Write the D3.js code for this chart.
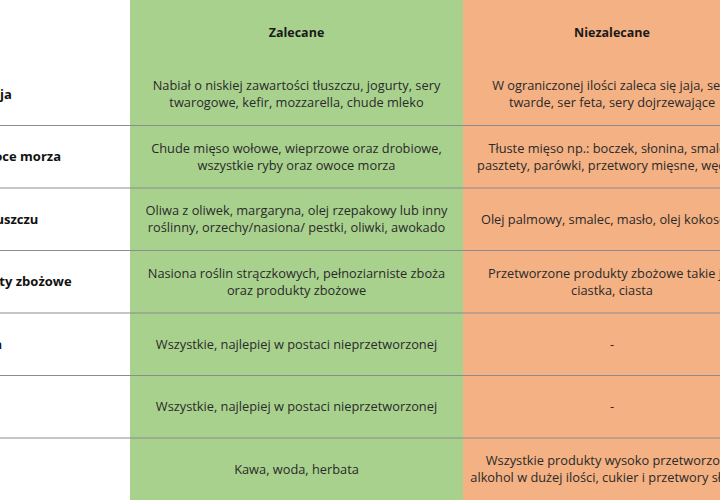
<!DOCTYPE html>
<html><head><meta charset="utf-8">
<script src="https://cdn.jsdelivr.net/npm/d3@7"></script>
<style>body{margin:0;background:#fff;overflow:hidden}</style>
</head><body>
<div id="chart"></div>
<script>
var headers = ['', 'Zalecane', 'Niezalecane'];
var groups = ['Mleko, nabiał i jaja', 'Mięso, ryby i owoce morza', 'Główne źródła tłuszczu',
  'Strączki i produkty zbożowe', 'Owoce i warzywa', 'Zioła', 'Napoje'];
var recommended = [
  ['Nabiał o niskiej zawartości tłuszczu, jogurty, sery', 'twarogowe, kefir, mozzarella, chude mleko'],
  ['Chude mięso wołowe, wieprzowe oraz drobiowe,', 'wszystkie ryby oraz owoce morza'],
  ['Oliwa z oliwek, margaryna, olej rzepakowy lub inny', 'roślinny, orzechy/nasiona/ pestki, oliwki, awokado'],
  ['Nasiona roślin strączkowych, pełnoziarniste zboża', 'oraz produkty zbożowe'],
  ['Wszystkie, najlepiej w postaci nieprzetworzonej'],
  ['Wszystkie, najlepiej w postaci nieprzetworzonej'],
  ['Kawa, woda, herbata']
];
var notRecommended = [
  ['W ograniczonej ilości zaleca się jaja, sery', 'twarde, ser feta, sery dojrzewające'],
  ['Tłuste mięso np.: boczek, słonina, smalec,', 'pasztety, parówki, przetwory mięsne, wędliny'],
  ['Olej palmowy, smalec, masło, olej kokosowy'],
  ['Przetworzone produkty zbożowe takie jak', 'ciastka, ciasta'],
  ['-'],
  ['-'],
  ['Wszystkie produkty wysoko przetworzone,', 'alkohol w dużej ilości, cukier i przetwory słodkie']
];

var width = 720, height = 500;
var svg = d3.select('#chart').append('svg').attr('width', width).attr('height', height);

// columns: label (partly off screen), green, orange
var x = d3.scaleOrdinal().domain([0, 1, 2]).range([-110, 130, 463]);
var colW = [240, 333, 298];
var y = d3.scaleBand().domain(d3.range(groups.length + 1)).range([0, 500]);
var font = '"Open Sans", sans-serif';

svg.append('rect').attr('x', x(1)).attr('y', 0).attr('width', colW[1]).attr('height', height).attr('fill', '#a9d18e');
svg.append('rect').attr('x', x(2)).attr('y', 0).attr('width', colW[2]).attr('height', height).attr('fill', '#f4b183');

svg.selectAll('line.sep').data(d3.range(2, groups.length + 1)).enter().append('line')
  .attr('x1', 0).attr('x2', width)
  .attr('y1', function(d) { return y(d) + 0.5; }).attr('y2', function(d) { return y(d) + 0.5; })
  .attr('stroke', '#8c8c8c').attr('stroke-width', 1);

svg.selectAll('text.head').data([1, 2]).enter().append('text')
  .attr('x', function(d) { return x(d) + colW[d] / 2; })
  .attr('y', y.bandwidth() / 2 + 6)
  .attr('text-anchor', 'middle').attr('font-family', font).attr('font-weight', 'bold')
  .attr('font-size', 12.5).attr('fill', '#1a1a1a')
  .text(function(d) { return headers[d]; });

svg.selectAll('text.group').data(groups).enter().append('text')
  .attr('x', x(0)).attr('y', function(d, i) { return y(i + 1) + y.bandwidth() / 2 + 5; })
  .attr('font-family', font).attr('font-weight', 'bold').attr('font-size', 13).attr('fill', '#111')
  .text(function(d) { return d; });

function cellText(data, col) {
  data.forEach(function(lines, i) {
    var t = svg.append('text').attr('text-anchor', 'middle').attr('font-family', font)
      .attr('font-size', 12.8).attr('fill', '#2a2a2a');
    var cy = y(i + 1) + y.bandwidth() / 2 + 5 - (lines.length - 1) * 8.5;
    lines.forEach(function(l, j) {
      t.append('tspan').attr('x', x(col) + colW[col] / 2).attr('y', cy + j * 17).text(l);
    });
  });
}
cellText(recommended, 1);
cellText(notRecommended, 2);
</script>
</body></html>
